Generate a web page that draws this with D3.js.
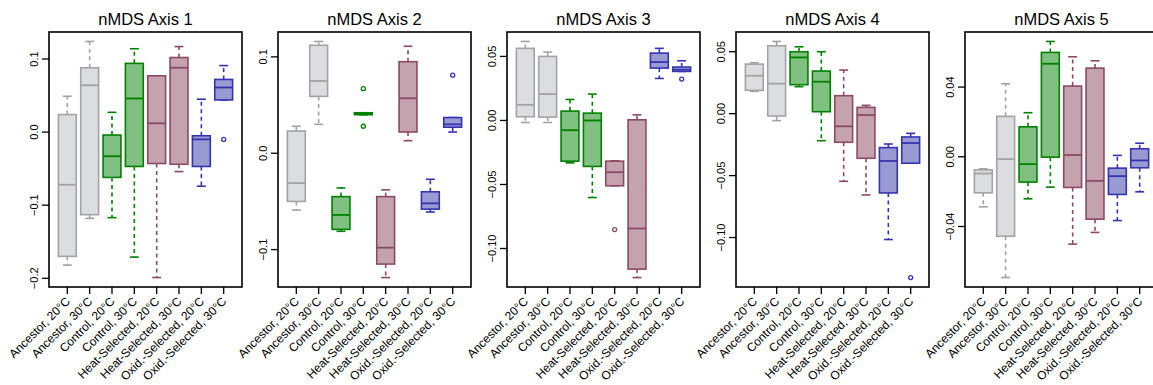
<!DOCTYPE html>
<html>
<head>
<meta charset="utf-8">
<script src="https://cdn.jsdelivr.net/npm/d3@7"></script>
<style>
  body { margin: 0; background: #fff; }
  text { font-family: "Liberation Sans", Arial, Helvetica, sans-serif; fill: #000; }
</style>
</head>
<body>
<svg id="chart" width="1153" height="385"></svg>
<script>
// --- group names (x categories) ---
const groups = ["Ancestor, 20°C", "Ancestor, 30°C", "Control, 20°C", "Control, 30°C",
  "Heat-Selected, 20°C", "Heat-Selected, 30°C", "Oxid.-Selected, 20°C", "Oxid.-Selected, 30°C"];

const titles = ["nMDS Axis 1", "nMDS Axis 2", "nMDS Axis 3", "nMDS Axis 4", "nMDS Axis 5"];

// box stats per group: [lower whisker, Q1, median, Q3, upper whisker]
const axis1Stats = [
  [-0.182, -0.170, -0.072, 0.024, 0.049],
  [-0.118, -0.113, 0.064, 0.088, 0.124],
  [-0.117, -0.062, -0.033, -0.004, 0.027],
  [-0.171, -0.047, 0.046, 0.094, 0.114],
  [-0.199, -0.043, 0.012, 0.077, 0.077],
  [-0.054, -0.044, 0.088, 0.102, 0.117],
  [-0.074, -0.047, -0.010, -0.005, 0.045],
  [0.044, 0.044, 0.061, 0.072, 0.091]
];
const axis1Out = [[], [], [], [], [], [], [], [-0.010]];

const axis2Stats = [
  [-0.059, -0.050, -0.031, 0.023, 0.028],
  [0.030, 0.059, 0.075, 0.112, 0.116],
  [-0.081, -0.079, -0.064, -0.045, -0.036],
  [0.040, 0.040, 0.041, 0.042, 0.042],
  [-0.129, -0.115, -0.098, -0.045, -0.038],
  [0.013, 0.022, 0.057, 0.095, 0.111],
  [-0.061, -0.058, -0.052, -0.040, -0.027],
  [0.022, 0.027, 0.030, 0.037, 0.037]
];
const axis2Out = [[], [], [], [0.067, 0.028], [], [], [], [0.081]];

const axis3Stats = [
  [-0.0016, 0.0029, 0.0122, 0.0563, 0.0617],
  [-0.0016, 0.0026, 0.0206, 0.0500, 0.0534],
  [-0.0331, -0.0318, -0.0076, 0.0073, 0.0164],
  [-0.0602, -0.0359, 0.0000, 0.0057, 0.0206],
  [-0.0510, -0.0510, -0.0404, -0.0318, -0.0315],
  [-0.1227, -0.1161, -0.0844, 0.0005, 0.0044],
  [0.0328, 0.0409, 0.0456, 0.0526, 0.0563],
  [0.0383, 0.0383, 0.0396, 0.0417, 0.0466]
];
const axis3Out = [[], [], [], [], [-0.0852], [], [], [0.0323]];

const axis4Stats = [
  [0.0180, 0.0188, 0.0306, 0.0400, 0.0411],
  [-0.0056, -0.0019, 0.0242, 0.0548, 0.0583],
  [0.0218, 0.0234, 0.0454, 0.0500, 0.0540],
  [-0.0218, 0.0016, 0.0258, 0.0344, 0.0500],
  [-0.0546, -0.0231, -0.0102, 0.0145, 0.0352],
  [-0.0656, -0.0360, -0.0011, 0.0051, 0.0067],
  [-0.1016, -0.0640, -0.0382, -0.0274, -0.0245],
  [-0.0400, -0.0400, -0.0237, -0.0188, -0.0159]
];
const axis4Out = [[], [], [], [], [], [], [], [-0.1323]];

const axis5Stats = [
  [-0.0287, -0.0207, -0.0096, -0.0075, -0.0069],
  [-0.0693, -0.0456, -0.0013, 0.0232, 0.0419],
  [-0.0241, -0.0145, -0.0042, 0.0172, 0.0253],
  [-0.0174, -0.0002, 0.0534, 0.0599, 0.0662],
  [-0.0501, -0.0176, 0.0010, 0.0406, 0.0574],
  [-0.0434, -0.0358, -0.0138, 0.0509, 0.0551],
  [-0.0366, -0.0216, -0.0111, -0.0065, 0.0008],
  [-0.0201, -0.0063, -0.0021, 0.0046, 0.0078]
];
const axis5Out = [[], [], [], [], [], [], [], []];

// y tick values + labels per panel
const axis1Ticks = [0.1, 0.0, -0.1, -0.2];
const axis1TickLabels = ["0.1", "0.0", "−0.1", "−0.2"];
const axis2Ticks = [0.1, 0.0, -0.1];
const axis2TickLabels = ["0.1", "0.0", "−0.1"];
const axis3Ticks = [0.05, 0.0, -0.05, -0.10];
const axis3TickLabels = ["0.05", "0.00", "−0.05", "−0.10"];
const axis4Ticks = [0.05, 0.0, -0.05, -0.10];
const axis4TickLabels = ["0.05", "0.00", "−0.05", "−0.10"];
const axis5Ticks = [0.04, 0.0, -0.04];
const axis5TickLabels = ["0.04", "0.00", "−0.04"];

const panels = [
  { stats: axis1Stats, out: axis1Out, ticks: axis1Ticks, labels: axis1TickLabels },
  { stats: axis2Stats, out: axis2Out, ticks: axis2Ticks, labels: axis2TickLabels },
  { stats: axis3Stats, out: axis3Out, ticks: axis3Ticks, labels: axis3TickLabels },
  { stats: axis4Stats, out: axis4Out, ticks: axis4Ticks, labels: axis4TickLabels },
  { stats: axis5Stats, out: axis5Out, ticks: axis5Ticks, labels: axis5TickLabels }
];

// colours: one per treatment (pairs of groups)
const strokeCols = ["#a3a3a3", "#008000", "#8b4a63", "#3434b0"];
const fillCols = ["#dcdde0", "#80c080", "#c4a3af", "#9a9ad2"];

const svg = d3.select("#chart");
const panelW = 193, panelH = 255, panelTop = 32, left0 = 49, step = 229;

panels.forEach((p, k) => {
  const g = svg.append("g").attr("transform", `translate(${left0 + k * step},${panelTop})`);

  // x like R: 0.5..n+0.5 padded 4%
  const x = d3.scaleLinear().domain([0.18, 8.82]).range([0, panelW]);

  const allVals = p.stats.flat().concat(p.out.flat());
  const lo = d3.min(allVals), hi = d3.max(allVals), pad = (hi - lo) * 0.04;
  const y = d3.scaleLinear().domain([lo - pad, hi + pad]).range([panelH, 0]);

  const bw = x(1.4) - x(1);   // half box width (boxwex 0.8)
  const cw = x(1.2) - x(1);   // half staple width

  const box = g.selectAll("g.box")
    .data(p.stats.map((s, i) => ({ s, i, out: p.out[i] })))
    .enter().append("g").attr("class", "box");

  box.each(function(d) {
    const b = d3.select(this);
    const cx = x(d.i + 1);
    const col = strokeCols[Math.floor(d.i / 2)];
    const fill = fillCols[Math.floor(d.i / 2)];
    const [wl, q1, med, q3, wh] = d.s;

    // whiskers (dashed)
    b.append("line").attr("x1", cx).attr("x2", cx).attr("y1", y(q3)).attr("y2", y(wh))
      .attr("stroke", col).attr("stroke-width", 1.6).attr("stroke-dasharray", "4,3.5");
    b.append("line").attr("x1", cx).attr("x2", cx).attr("y1", y(q1)).attr("y2", y(wl))
      .attr("stroke", col).attr("stroke-width", 1.6).attr("stroke-dasharray", "4,3.5");
    // staples
    [wl, wh].forEach(v => {
      b.append("line").attr("x1", cx - cw).attr("x2", cx + cw).attr("y1", y(v)).attr("y2", y(v))
        .attr("stroke", col).attr("stroke-width", 1.6);
    });
    // box
    b.append("rect").attr("x", cx - bw).attr("width", 2 * bw)
      .attr("y", y(q3)).attr("height", Math.max(y(q1) - y(q3), 0.5))
      .attr("fill", fill).attr("stroke", col).attr("stroke-width", 1.6);
    // median
    b.append("line").attr("x1", cx - bw).attr("x2", cx + bw).attr("y1", y(med)).attr("y2", y(med))
      .attr("stroke", col).attr("stroke-width", 1.8);
    // outliers
    b.selectAll("circle").data(d.out).enter().append("circle")
      .attr("cx", cx).attr("cy", v => y(v)).attr("r", 2)
      .attr("fill", "none").attr("stroke", col).attr("stroke-width", 1.3);
  });

  // frame
  g.append("rect").attr("width", panelW).attr("height", panelH)
    .attr("fill", "none").attr("stroke", "#000").attr("stroke-width", 1.6);

  // y axis ticks
  p.ticks.forEach((t, j) => {
    g.append("line").attr("x1", -7).attr("x2", 0).attr("y1", y(t)).attr("y2", y(t))
      .attr("stroke", "#000").attr("stroke-width", 1.3);
    g.append("text")
      .attr("transform", `translate(-11.5,${y(t)}) rotate(-90)`)
      .attr("text-anchor", "middle")
      .style("font-size", "11px")
      .text(p.labels[j]);
  });

  // x axis ticks + rotated labels
  groups.forEach((name, i) => {
    const cx = x(i + 1);
    g.append("line").attr("x1", cx).attr("x2", cx).attr("y1", panelH).attr("y2", panelH + 7)
      .attr("stroke", "#000").attr("stroke-width", 1.3);
    g.append("text")
      .attr("transform", `translate(${cx + 3.5},${panelH + 15}) rotate(-45)`)
      .attr("text-anchor", "end")
      .style("font-size", "12px")
      .text(name);
  });

  // title
  g.append("text")
    .attr("x", panelW / 2).attr("y", -7)
    .attr("text-anchor", "middle")
    .style("font-size", "16.5px")
    .text(titles[k]);
});
</script>
</body>
</html>
